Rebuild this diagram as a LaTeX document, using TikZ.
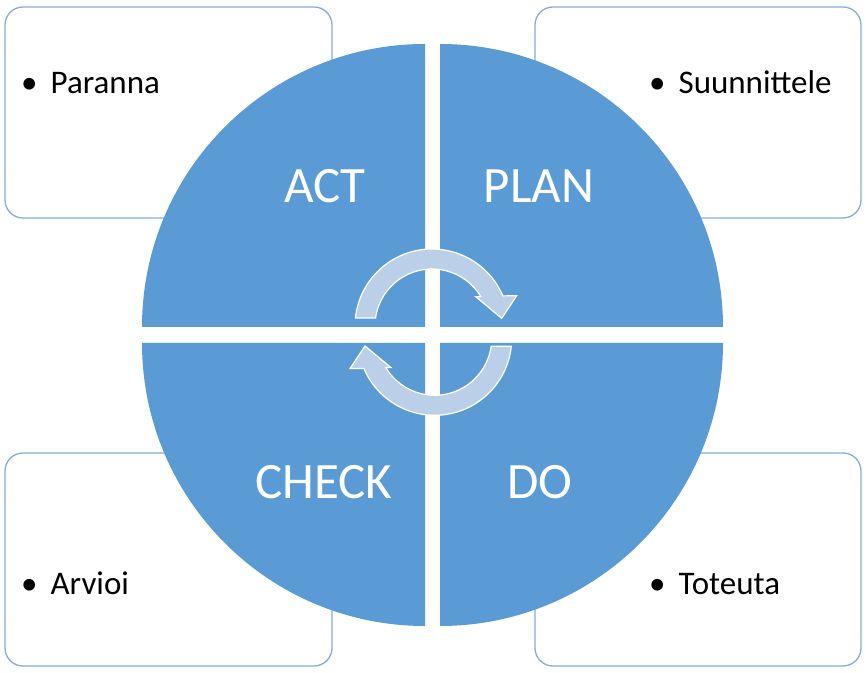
\documentclass[tikz,border=0pt]{standalone}
\usepackage{fontspec}
\setmainfont{Carlito}

\definecolor{pdcablue}{RGB}{91,155,213}
\definecolor{arrowblue}{RGB}{188,207,232}
\definecolor{boxline}{RGB}{132,172,220}

\tikzset{
	infobox/.style={draw=boxline, line width=1.3pt, fill=white, rounded corners=18pt},
	quadrant/.style={fill=pdcablue},
	quadtext/.style={text=white, font=\fontsize{51}{60}\selectfont, anchor=base, inner sep=0pt},
	itemtext/.style={font=\fontsize{33}{40}\selectfont, anchor=base west, inner sep=0pt},
	cyclearrow/.style={fill=arrowblue, draw=white, line width=1.2pt},
	kiertonuoli/.pic={
		\filldraw[cyclearrow] (174:77) arc[start angle=174, end angle=23, radius=77pt]
			-- (84.7,30.3) -- (69.7,7.7) -- (43.7,29.3)
			-- (31:57) arc[start angle=31, end angle=172, radius=57pt] -- cycle;
	}
}

\begin{document}
\begin{tikzpicture}[x=1pt,y=1pt]
		\fill[white] (0,0) rectangle (866,672);
	
		% corner boxes
		\draw[infobox] (5,454) rectangle (332,665);
		\node[itemtext] (paranna) at (21,578) {\textbullet\hspace{13pt}Paranna};
		\draw[infobox] (535,454) rectangle (861,665);
		\node[itemtext] (suunnittele) at (649,578) {\textbullet\hspace{13pt}Suunnittele};
		\draw[infobox] (5,6) rectangle (332,219);
		\node[itemtext] (arvioi) at (21,78) {\textbullet\hspace{13pt}Arvioi};
		\draw[infobox] (535,6) rectangle (861,219);
		\node[itemtext] (toteuta) at (649,78) {\textbullet\hspace{13pt}Toteuta};
	
		% the four quarters
		\fill[quadrant] (425,345) -- (142,345) arc[start angle=180, end angle=90, radius=283pt] -- cycle;
		\node[quadtext] (act) at (325,469) {ACT};
		\fill[quadrant] (440,345) -- (440,628) arc[start angle=90, end angle=0, radius=283pt] -- cycle;
		\node[quadtext] (plan) at (539,469) {PLAN};
		\fill[quadrant] (425,329) -- (142,329) arc[start angle=180, end angle=270, radius=283pt] -- cycle;
		\node[quadtext] (check) at (324,174) {CHECK};
		\fill[quadrant] (440,329) -- (440,46) arc[start angle=270, end angle=360, radius=283pt] -- cycle;
		\node[quadtext] (do) at (540,174) {DO};
	
		% arrows in the middle
		\pic at (432,346) {kiertonuoli};
		\pic[rotate=180] at (434.7,333.7) {kiertonuoli};
	\end{tikzpicture}
\end{document}
